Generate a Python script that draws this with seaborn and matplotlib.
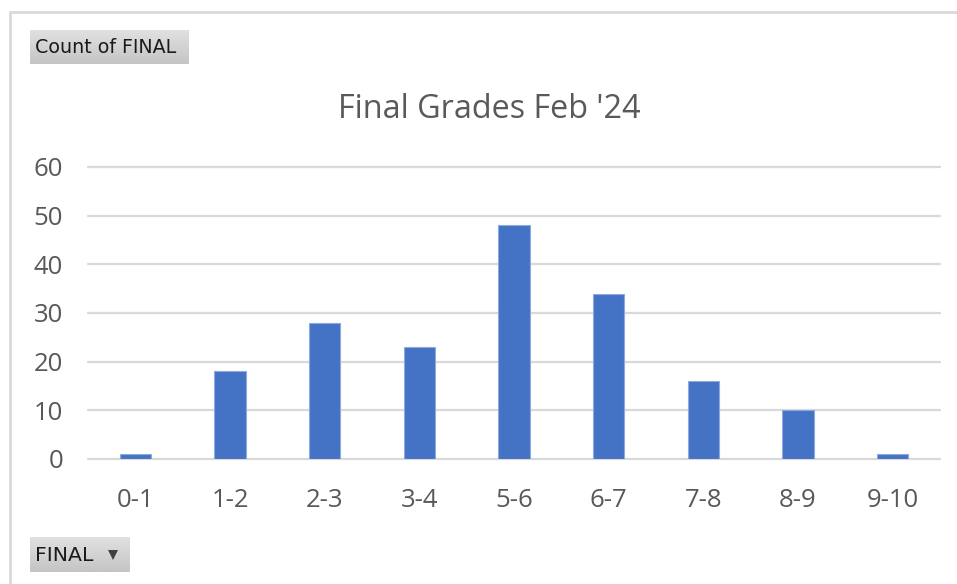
"""
Pivot-chart style histogram of final grades (Feb '24).
Saves out.png in the current folder.
"""
import numpy as np
import matplotlib.pyplot as plt
import seaborn as sns
from matplotlib.lines import Line2D

# --- data -------------------------------------------------------------
grade_bins = ["0-1", "1-2", "2-3", "3-4", "5-6", "6-7", "7-8", "8-9", "9-10"]
counts = [1, 18, 28, 23, 48, 34, 16, 10, 1]
y_ticks = [0, 10, 20, 30, 40, 50, 60]

W, H = 957, 584
BAR = "#4472C4"
TXT = "#595959"
GRID = "#D9D9D9"


def px(x0, y0, x1, y1):
    # pixel box (top-left origin) -> figure fraction rect
    return [x0 / W, 1 - y1 / H, (x1 - x0) / W, (y1 - y0) / H]


def add_button(fig, box, label, size, arrow=False):
    bax = fig.add_axes(px(*box))
    grad = np.linspace(0.88, 0.77, 50).reshape(-1, 1)
    bax.imshow(grad, aspect="auto", cmap="gray", vmin=0, vmax=1,
               extent=[0, 1, 0, 1], origin="upper")
    bax.set_xlim(0, 1)
    bax.set_ylim(0, 1)
    bax.axis("off")
    bax.text(5 / (box[2] - box[0]), 0.48, label, va="center", ha="left",
             fontsize=size, color="#1a1a1a", family="DejaVu Sans")
    if arrow:
        bax.plot([0.83], [0.5], marker="v", markersize=6.5, color="#404040",
                 markeredgewidth=0)


sns.set_theme(style="white")
plt.rcParams["font.family"] = ["Open Sans", "DejaVu Sans"]

fig = plt.figure(figsize=(W / 100, H / 100), dpi=100)

# outer chart frame (top and left edge visible)
fig.add_artist(Line2D([10 / W, 1], [1 - 12 / H, 1 - 12 / H], color="#D9D9D9", lw=2))
fig.add_artist(Line2D([10 / W, 10 / W], [0, 1 - 12 / H], color="#D9D9D9", lw=2))

ax = fig.add_axes(px(88, 167, 940, 459))
sns.barplot(x=grade_bins, y=counts, color=BAR, width=0.33, saturation=1,
            edgecolor="#8EA9DB", linewidth=0.8, ax=ax, zorder=3)
ax.set_ylim(0, 60)
ax.set_yticks(y_ticks)
ax.set_xlim(-0.5, len(grade_bins) - 0.5)
for y in y_ticks:
    ax.axhline(y, color=GRID, lw=1.6, zorder=1, clip_on=False)
for s in ax.spines.values():
    s.set_visible(False)
ax.set_xlabel("")
ax.set_ylabel("")
ax.tick_params(axis="y", length=0, pad=18, labelsize=18.5, labelcolor=TXT)
ax.tick_params(axis="x", length=0, pad=21, labelsize=18.5, labelcolor=TXT)

fig.text(489 / W, 1 - 109 / H, "Final Grades Feb '24", ha="center", va="center",
         fontsize=23.3, color=TXT)

add_button(fig, (30, 30, 189, 64), "Count of FINAL", 13.7)
add_button(fig, (30, 537, 130, 572), "FINAL", 14.7, arrow=True)

fig.savefig("out.png", dpi=100)
